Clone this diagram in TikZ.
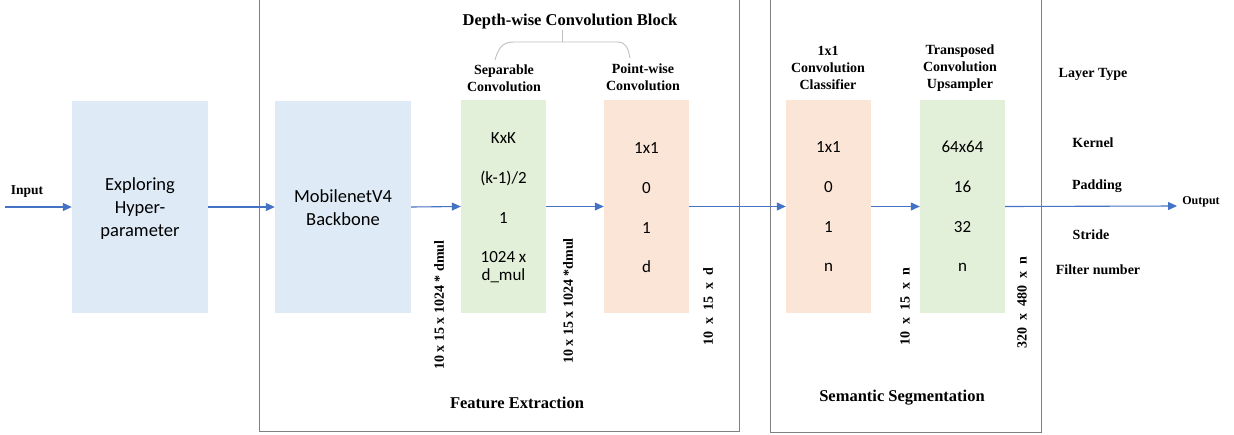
\documentclass[tikz,border=0pt]{standalone}
\usepackage{fontspec}
\setmainfont{Liberation Serif}
\newfontfamily\calfont{Carlito}
\usetikzlibrary{arrows.meta}
\definecolor{bblue}{HTML}{DEEBF7}
\definecolor{bgreen}{HTML}{E2F0D9}
\definecolor{borange}{HTML}{FBE5D6}
\definecolor{arr}{HTML}{4472C4}
\definecolor{framec}{HTML}{808080}
\definecolor{bracec}{HTML}{BFBFBF}
\begin{document}
\begin{tikzpicture}[x=1pt,y=-1pt,
  box/.style={draw=none, inner sep=0pt, minimum width=#1, minimum height=213pt, align=center,
     font=\calfont\fontsize{18.5}{23}\selectfont},
  val/.style={inner sep=0pt, font=\calfont\fontsize{17}{18}\selectfont, align=center},
  ttl/.style={inner sep=0pt, font=\bfseries\fontsize{14}{17}\selectfont, align=center},
  sect/.style={inner sep=0pt, font=\bfseries\fontsize{16.5}{19}\selectfont},
  dim/.style={inner sep=0pt, rotate=90, font=\bfseries\fontsize{14}{16}\selectfont},
  lt/.style={inner sep=0pt, font=\bfseries\fontsize{14}{16}\selectfont},
  conn/.style={draw=arr, line width=1.1pt, -{Triangle[length=9pt,width=8pt]}},
  framel/.style={draw=framec, line width=1pt},
  bracel/.style={draw=bracec, line width=0.9pt}]
\useasboundingbox (0,0) rectangle (1234,434);

% section frames
\draw[framel] (259,-5) rectangle (739,431);
\draw[framel] (770,-5) rectangle (1041,432);

% boxes
\node[box=136pt, fill=bblue, minimum height=212pt] (expl) at (140,207) {};
\node[box=136pt, fill=bblue, minimum height=212pt] (mob) at (343,207) {};
\node[box=85pt, fill=bgreen] (sep) at (503.5,206.5) {};
\node[box=85pt, fill=borange] (pw) at (646.5,206.5) {};
\node[box=85pt, fill=borange] (cls) at (828.5,206.5) {};
\node[box=85pt, fill=bgreen] (up) at (962.5,206.5) {};
\node[box=136pt, minimum height=0pt] (expltxt) at (140,209) {Exploring\\Hyper-\\parameter};
\node[box=136pt, minimum height=0pt] (mobtxt) at (343,208) {MobilenetV4\\Backbone};

% values
\node[val] (s1) at (503.5,138) {KxK};
\node[val] (s2) at (503.5,178) {(k-1)/2};
\node[val] (s3) at (503.5,218) {1};
\node[val] (s4) at (503.5,267) {1024 x\\d\_mul};
\node[val] (p1) at (646.5,148) {1x1};
\node[val] (p2) at (646.5,188) {0};
\node[val] (p3) at (646.5,228) {1};
\node[val] (p4) at (646.5,267) {d};
\node[val] (c1) at (828.5,147) {1x1};
\node[val] (c2) at (828.5,187) {0};
\node[val] (c3) at (828.5,227) {1};
\node[val] (c4) at (828.5,267) {n};
\node[val] (u1) at (962.5,147) {64x64};
\node[val] (u2) at (962.5,187) {16};
\node[val] (u3) at (962.5,227) {32};
\node[val] (u4) at (962.5,267) {n};

% titles
\node[sect] (dtitle) at (570,22) {Depth-wise Convolution Block};
\node[ttl] (septitle) at (504,78) {Separable\\Convolution};
\node[ttl] (pwtitle) at (643,77) {Point-wise\\Convolution};
\node[ttl] (clstitle) at (828,68) {1x1\\Convolution\\Classifier};
\node[ttl] (uptitle) at (960,68) {Transposed\\Convolution\\Upsampler};
\node[sect] (fe) at (517,403) {Feature Extraction};
\node[sect] (ss) at (902,398) {Semantic Segmentation};

% brace
\coordinate (bl) at (495,60);
\coordinate (br) at (630,58);
\coordinate (bm) at (562,42);
\draw[bracel] (dtitle.south -| bm) -- (bm);
\draw[bracel] (bl) .. controls (499,45) and (505,42) .. (514,42) -- (618,42) .. controls (625,42) and (628,47) .. (br);

% dimension labels
\node[dim] (d1) at (439,305) {10 x 15 x 1024 * dmul};
\node[dim] (d2) at (568,301) {10 x 15 x 1024 *dmul};
\node[dim] (d3) at (708,307) {10 \ x \ 15 \ x \ d};
\node[dim] (d4) at (905,307) {10 \ x \ 15 \ x \ n};
\node[dim] (d5) at (1022,303) {320 \ x \ 480 \ x \ n};

% layer legend
\node[lt] (l1) at (1093,74) {Layer Type};
\node[lt] (l2) at (1093,143) {Kernel};
\node[lt] (l3) at (1097,186) {Padding};
\node[lt] (l4) at (1091,235) {Stride};
\node[lt] (l5) at (1098,270) {Filter number};

% input / output
\node[inner sep=0pt, font=\bfseries\fontsize{13.5}{16}\selectfont] (inlbl) at (27,192) {Input};
\coordinate (inp) at (5,207);
\coordinate (outp) at (1177,206);
\node[inner sep=0pt, font=\bfseries\fontsize{12}{14}\selectfont] (outlbl) at (1201,202) {Output};

% connectors
\draw[conn] (inp) -- (expl.west);
\draw[conn] (expl.east) -- (mob.west);
\draw[conn] (mob.east) -- (sep.west);
\draw[conn] (sep.east) -- (pw.west);
\draw[conn] (pw.east) -- (cls.west);
\draw[conn] (cls.east) -- (up.west);
\draw[conn] (up.east) -- (outp);
\end{tikzpicture}
\end{document}
